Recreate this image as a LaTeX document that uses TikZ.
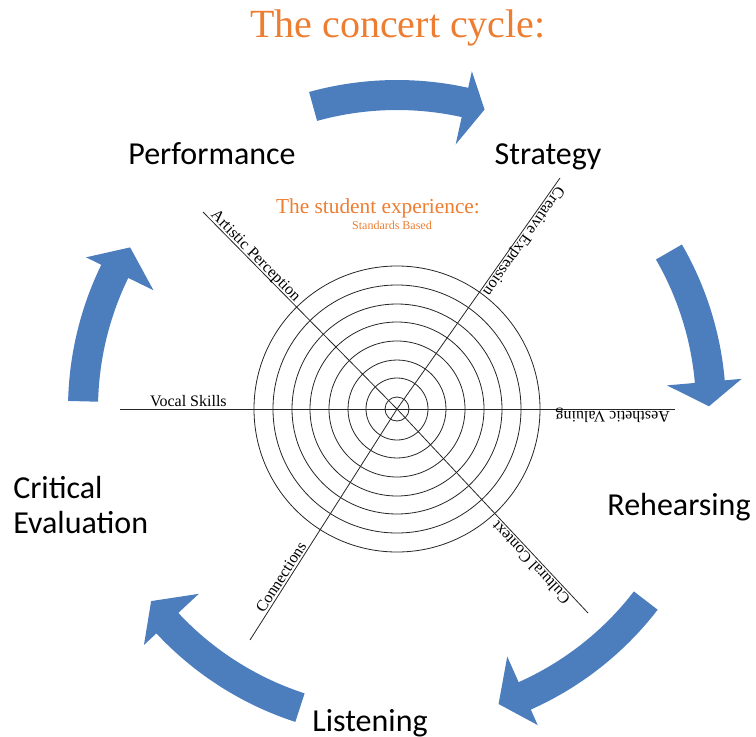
\documentclass[tikz,border=0pt]{standalone}
\usepackage{fontspec}
\setmainfont{Liberation Serif}
\newfontfamily\stagefont{Carlito}
\usepackage{tikz}
\definecolor{cycleblue}{RGB}{76,126,190}
\definecolor{titleorange}{RGB}{237,125,49}
\tikzstyle{stage} = [font=\stagefont\fontsize{24}{26}\selectfont, inner sep=0pt]
\tikzstyle{heading} = [text=titleorange, anchor=base, inner sep=0pt]
\tikzstyle{axislabel} = [sloped, allow upside down, anchor=south west, inner sep=1.5pt, text depth=0pt, font=\fontsize{12}{14}\selectfont]
\tikzstyle{spoke} = [draw=black!85, line width=0.6pt]
\tikzstyle{ring} = [draw=black!85, line width=0.6pt]
\tikzstyle{cyclearrow} = [fill=cycleblue]

\begin{document}
\begin{tikzpicture}[x=0.75pt, y=0.75pt]
        \useasboundingbox (-397,-327) rectangle (359,409);
        \node (title) [heading, font=\fontsize{30}{36}\selectfont] at (1,371) {The concert cycle:};
        \node (student) [heading, font=\fontsize{16}{19}\selectfont] at (-19,196) {The student experience:};
        \node (standards) [heading, font=\fontsize{9}{11}\selectfont] at (-5,180) {Standards Based};
        \foreach \s/\b/\t in {105.5/77.5/73.7, 30/5/0.5, -37.6/-66/-71, -108/-137/-142, 178.6/154/148.8}
            \fill[cyclearrow] (\s:329) arc[start angle=\s, end angle=\b, radius=329] -- (\b:346) -- (\t:312) -- (\b:271) -- (\b:299) arc[start angle=\b, end angle=\s, radius=299] -- cycle;
        \node (performance) [stage, anchor=base] at (-185,244) {Performance};
        \node (strategy) [stage, anchor=base] at (151,244) {Strategy};
        \node (rehearsing) [stage, anchor=base] at (282,-106) {Rehearsing};
        \node (listening) [stage, anchor=base] at (-27,-322) {Listening};
        \node (critical) [stage, align=left, anchor=base west] at (-384,-124) {Critical\\Evaluation};
        \coordinate (c) at (0,0);
        \foreach \r in {12,31,49,68,87,105,124,143}
            \draw[ring] (c) circle[radius=\r];
        \coordinate (vsend) at (-277,0);
        \coordinate (apend) at (-194,197);
        \coordinate (ceend) at (163,231);
        \coordinate (avend) at (278,0);
        \coordinate (ccend) at (191,-204);
        \coordinate (cnend) at (-147,-231);
        \draw[spoke] (vsend) -- (c) node[axislabel, pos=0.1] (vocal) {Vocal Skills};
        \draw[spoke] (apend) -- (c) node[axislabel, pos=0.02] (artistic) {Artistic Perception};
        \draw[spoke] (ceend) -- (c) node[axislabel, pos=0.02] (creative) {Creative Expression};
        \draw[spoke] (avend) -- (c) node[axislabel, pos=0.01] (aesthetic) {Aesthetic Valuing};
        \draw[spoke] (ccend) -- (c) node[axislabel, pos=0.07] (cultural) {Cultural Context};
        \draw[spoke] (cnend) -- (c) node[axislabel, pos=0.1] (connections) {Connections};
\end{tikzpicture}
\end{document}
